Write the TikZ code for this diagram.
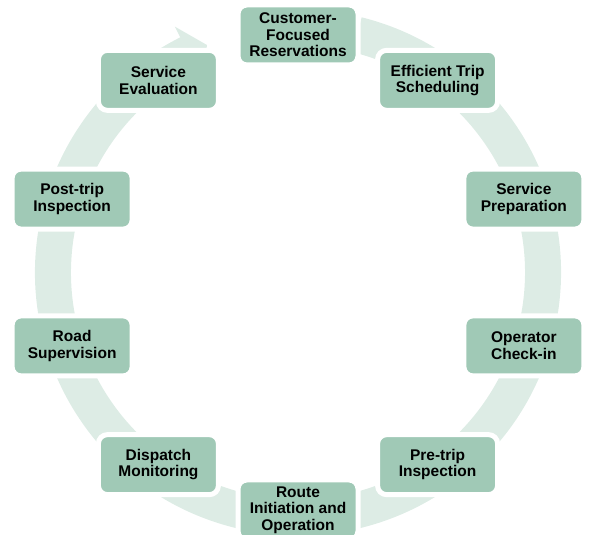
\documentclass[tikz,border=0pt]{standalone}
\usepackage{fontspec}
\setmainfont{Liberation Sans}
\definecolor{ringgreen}{RGB}{221,236,229}
\definecolor{boxgreen}{RGB}{160,201,182}
\begin{document}
\begin{tikzpicture}[x=1pt,y=1pt,
  stagebox/.style={rectangle, rounded corners=9pt, fill=boxgreen, draw=white,
    line width=5pt, minimum width=120pt, minimum height=60pt, align=center,
    inner sep=0pt, text=black, font=\fontsize{15.5}{16.5}\selectfont\bfseries}]
\useasboundingbox (0,0) rectangle (590,535);
\coordinate (c) at (298,262.5);
\begin{scope}[shift={(c)}]
  % circular arrow running clockwise behind the stages
  \fill[ringgreen] (76:263) arc[start angle=76, end angle=-243.5, radius=263]
    -- (-243.5:227) arc[start angle=-243.5, end angle=76, radius=227] -- cycle;
  \fill[ringgreen] (116.6:275) -- (111.8:245) -- (116.6:215) -- cycle;
  % stages of the cycle
  \node[stagebox] (n1)  at (90:237.5)   {Customer-\\Focused\\Reservations};
  \node[stagebox] (n2)  at (54:237.5)   {Efficient Trip\\Scheduling};
  \node[stagebox] (n3)  at (18:237.5)   {Service\\Preparation};
  \node[stagebox] (n4)  at (-18:237.5)  {Operator\\Check-in};
  \node[stagebox] (n5)  at (-54:237.5)  {Pre-trip\\Inspection};
  \node[stagebox] (n6)  at (-90:237.5)  {Route\\Initiation and\\Operation};
  \node[stagebox] (n7)  at (-126:237.5) {Dispatch\\Monitoring};
  \node[stagebox] (n8)  at (-162:237.5) {Road\\Supervision};
  \node[stagebox] (n9)  at (162:237.5)  {Post-trip\\Inspection};
  \node[stagebox] (n10) at (126:237.5)  {Service\\Evaluation};
\end{scope}
\end{tikzpicture}
\end{document}
